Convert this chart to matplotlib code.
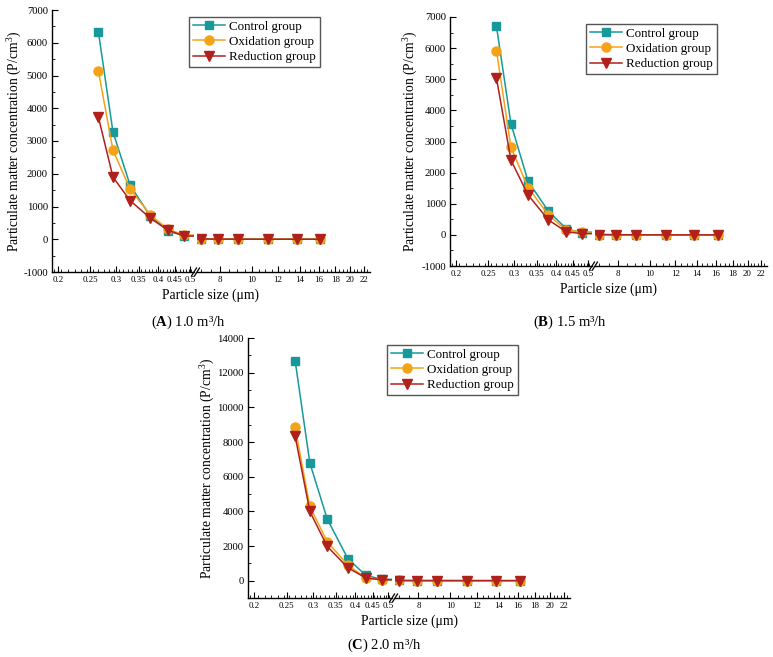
import matplotlib
matplotlib.use('Agg')
import matplotlib.pyplot as plt
import numpy as np
from matplotlib.ticker import FixedLocator, FixedFormatter, NullFormatter, MultipleLocator, FuncFormatter
from matplotlib.lines import Line2D

plt.rcParams['font.family'] = ['Liberation Serif', 'DejaVu Serif']
plt.rcParams['mathtext.fontset'] = 'custom'
plt.rcParams['mathtext.rm'] = 'Liberation Serif'
plt.rcParams['mathtext.it'] = 'Liberation Serif:italic'
plt.rcParams['mathtext.bf'] = 'Liberation Serif:bold'
plt.rcParams['axes.unicode_minus'] = False

# ---------------- data ----------------
sizes = [0.265, 0.293, 0.33, 0.38, 0.43, 0.48, 7.0, 7.9, 9.1, 11.2, 13.7, 16.2]
groups = ['Control group', 'Oxidation group', 'Reduction group']

a_control = [6320, 3280, 1650, 700, 250, 110, 10, 5, 3, 2, 1, 1]
a_oxidation = [5130, 2720, 1530, 740, 300, 130, 10, 5, 3, 2, 1, 1]
a_reduction = [3720, 1900, 1180, 640, 270, 100, 8, 4, 2, 1, 1, 0]

b_control = [6700, 3570, 1720, 760, 200, 60, 10, 5, 3, 2, 1, 1]
b_oxidation = [5920, 2810, 1520, 640, 150, 100, 10, 5, 3, 2, 1, 1]
b_reduction = [5040, 2400, 1280, 480, 100, 40, 8, 4, 2, 1, 1, 0]

c_control = [12700, 6800, 3560, 1270, 300, 80, 10, 5, 3, 2, 1, 1]
c_oxidation = [8850, 4280, 2250, 900, 150, 50, 10, 5, 3, 2, 1, 1]
c_reduction = [8350, 4000, 1980, 750, 150, 50, 8, 4, 2, 1, 1, 0]

left_ticks = [0.2, 0.25, 0.3, 0.35, 0.4, 0.45, 0.5]
left_labels = ['0.2', '0.25', '0.3', '0.35', '0.4', '0.45', '0.5']
right_ticks = [8, 10, 12, 14, 16, 18, 20, 22]
right_labels = ['8', '10', '12', '14', '16', '18', '20', '22']

captions = ['A', 'B', 'C']
flows = ['1.0 m³/h', '1.5 m³/h', '2.0 m³/h']

colors = ['#17999B', '#F5A316', '#B0211C']
markers = ['s', 'o', 'v']
msizes = [5.5, 6.5, 7]

W, H = 773, 657
fig = plt.figure(figsize=(W / 100, H / 100), dpi=100)


def fx(px):
    return px / W


def fy(py):
    return 1 - py / H


def rect(x0, x1, top, bottom):
    return [fx(x0), fy(bottom), (x1 - x0) / W, (bottom - top) / H]


# panel geometry in pixels: (axis left, break left, break right, axis right, top, bottom)
panels = [
    (52, 194, 197, 370, 10, 272),
    (450, 592, 595, 767, 17, 266),
    (248, 392, 395, 570, 338, 598),
]
ylims = [(-1000, 7000), (-1000, 7000), (-1000, 14000)]
ymajor = [1000, 1000, 2000]
yminor = [500, 500, 1000]
ylabel_x = [15, 411, 208]
legend_anchor = [(320, 17), (717, 24), (518, 345)]
caption_pos = [(188, 322), (570, 322), (384, 645)]
datasets = [
    (a_control, a_oxidation, a_reduction),
    (b_control, b_oxidation, b_reduction),
    (c_control, c_oxidation, c_reduction),
]

for i, (xl, bl, br, xr, top, bottom) in enumerate(panels):
    axL = fig.add_axes(rect(xl, bl, top, bottom))
    axR = fig.add_axes(rect(br, xr, top, bottom), sharey=axL)
    for ax in (axL, axR):
        ax.set_xscale('log')
        ax.patch.set_alpha(0)
        ax.spines['top'].set_visible(False)
        ax.spines['right'].set_visible(False)
        for s in ax.spines.values():
            s.set_linewidth(1.0)
    axR.spines['left'].set_visible(False)
    axL.set_xlim(0.192, 0.514)
    axR.set_xlim(6.8, 22.95)
    axL.set_ylim(*ylims[i])

    handles = []
    for j, ys in enumerate(datasets[i]):
        for ax in (axL, axR):
            ln, = ax.plot(sizes, ys, color=colors[j], marker=markers[j],
                          markersize=msizes[j], linewidth=1.1,
                          markeredgecolor=colors[j], label=groups[j])
        handles.append(ln)

    # x ticks
    axL.xaxis.set_major_locator(FixedLocator(left_ticks))
    axL.xaxis.set_major_formatter(FixedFormatter(left_labels))
    axL.xaxis.set_minor_locator(FixedLocator(list(np.arange(0.195, 0.515, 0.01))))
    axL.xaxis.set_minor_formatter(NullFormatter())
    axR.xaxis.set_major_locator(FixedLocator(right_ticks))
    axR.xaxis.set_major_formatter(FixedFormatter(right_labels))
    axR.xaxis.set_minor_locator(FixedLocator(list(np.arange(7.0, 23.0, 0.5))))
    axR.xaxis.set_minor_formatter(NullFormatter())

    # y ticks
    axL.yaxis.set_major_locator(MultipleLocator(ymajor[i]))
    axL.yaxis.set_minor_locator(MultipleLocator(yminor[i]))
    if i == 2:
        axL.yaxis.set_major_formatter(
            FuncFormatter(lambda v, p: '' if v < 0 else '%d' % v))
    else:
        axL.yaxis.set_major_formatter(FuncFormatter(lambda v, p: '%d' % v))
    axR.tick_params(axis='y', which='both', left=False, labelleft=False)

    for ax in (axL, axR):
        ax.tick_params(axis='x', which='major', direction='in', length=4,
                       width=0.8, labelsize=6.4, pad=3)
        ax.tick_params(axis='x', which='minor', direction='in', length=2,
                       width=0.6)
    axL.tick_params(axis='y', which='major', direction='in', length=4,
                    width=0.8, labelsize=7.7, pad=3)
    axL.tick_params(axis='y', which='minor', direction='in', length=2,
                    width=0.6)

    # y label
    fig.text(fx(ylabel_x[i]), fy((top + bottom) / 2),
             'Particulate matter concentration (P/cm$^3$)',
             rotation=90, ha='center', va='center', fontsize=9.8)

    # x label centred on the full axis
    fig.text(fx((xl + xr) / 2), fy(bottom + 23), 'Particle size (μm)',
             ha='center', va='center', fontsize=9.8)

    # break marks
    for px in (bl, br):
        fig.add_artist(Line2D([fx(px - 2.5), fx(px + 2.5)],
                              [fy(bottom + 4), fy(bottom - 4)],
                              color='black', linewidth=0.9))

    # legend
    ax_, ay_ = legend_anchor[i]
    fig.legend(handles=handles, loc='upper right',
               bbox_to_anchor=(fx(ax_), fy(ay_)), bbox_transform=fig.transFigure,
               borderaxespad=0, fontsize=9.4, frameon=True, fancybox=False,
               edgecolor='#555555', framealpha=1, handlelength=2.5,
               handletextpad=0.3, labelspacing=0.22, borderpad=0.3)

    # caption
    cx, cy = caption_pos[i]
    fig.text(fx(cx), fy(cy), '($\\mathbf{%s}$) %s' % (captions[i], flows[i]),
             ha='center', va='center', fontsize=10.5)

fig.savefig('out.png', dpi=100)
